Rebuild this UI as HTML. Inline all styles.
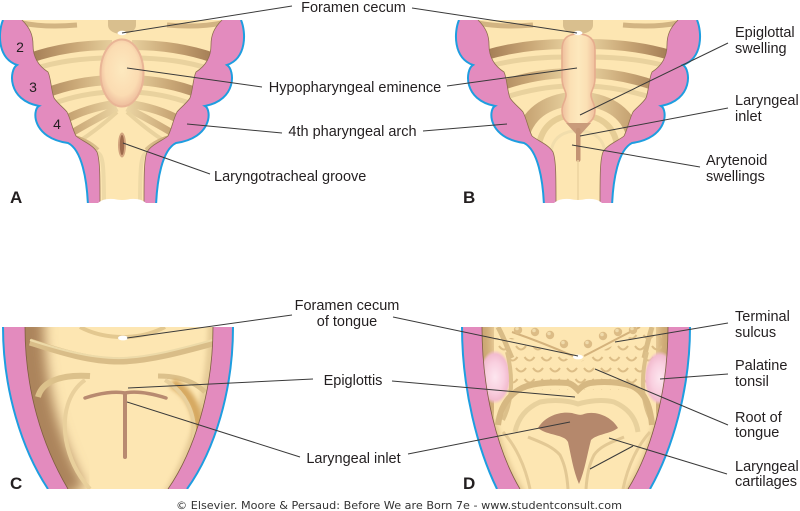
<!DOCTYPE html>
<html><head><meta charset="utf-8">
<style>html,body{margin:0;padding:0;background:#fff}svg{display:block}</style>
</head><body>
<svg width="800" height="511" viewBox="0 0 800 511" xmlns="http://www.w3.org/2000/svg" xmlns:xlink="http://www.w3.org/1999/xlink" font-family="'Liberation Sans', Arial, sans-serif">
<defs>
<linearGradient id="gb" gradientUnits="userSpaceOnUse" x1="-92" y1="0" x2="-5" y2="0">
<stop offset="0" stop-color="#a37c54"/><stop offset="0.5" stop-color="#c9a776"/><stop offset="1" stop-color="#ead4a2"/>
</linearGradient>
<radialGradient id="gem" cx="0.5" cy="0.45" r="0.55">
<stop offset="0" stop-color="#fde9bf"/><stop offset="0.7" stop-color="#fbdcb2"/><stop offset="1" stop-color="#eebc9c"/>
</radialGradient>
<linearGradient id="gsw" x1="0" y1="0" x2="1" y2="0">
<stop offset="0" stop-color="#efbf9d"/><stop offset="0.25" stop-color="#fbe0b4"/><stop offset="0.5" stop-color="#fde8bd"/><stop offset="0.75" stop-color="#fbe0b4"/><stop offset="1" stop-color="#efbf9d"/>
</linearGradient>
<radialGradient id="gto" cx="0.5" cy="0.5" r="0.5">
<stop offset="0" stop-color="#fde6ef"/><stop offset="0.55" stop-color="#f9cfdf"/><stop offset="0.85" stop-color="#f2bccf"/><stop offset="1" stop-color="#f2bccf" stop-opacity="0"/>
</radialGradient>
<filter id="b6" x="-50%" y="-50%" width="200%" height="200%"><feGaussianBlur stdDeviation="6"/></filter>
<filter id="b3" x="-50%" y="-50%" width="200%" height="200%"><feGaussianBlur stdDeviation="2.5"/></filter>
<clipPath id="cAh"><path d="M-100,20 C-92,28 -89,35 -89,45 C-89,55 -85,65 -74,72 C-71,78 -71,90 -68,98 C-64,104 -58,108 -55,112 C-51,120 -50,128 -46,136 C-40,141 -30,144 -25,152 C-22,160 -22,175 -22,206 L0,206 L0,20 Z"/></clipPath>
<clipPath id="clipTop"><rect x="0" y="20" width="800" height="183"/></clipPath>
<clipPath id="clipBot"><rect x="0" y="327" width="800" height="162"/></clipPath>
<clipPath id="cCc"><path d="M25,327 C25,390 42,445 68,489 L168,489 C195,450 213,390 213,327 Z"/></clipPath>
<clipPath id="cDc"><path d="M482,327 C482,390 497,450 520,489 L628,489 C652,450 668,390 668,327 Z"/></clipPath>
<pattern id="scl" patternUnits="userSpaceOnUse" x="497" y="343" width="17" height="22">
<path d="M2,3 Q7,10 12,3 M10.5,14 Q15.5,21 20.5,14 M-6.5,14 Q-1.5,21 3.5,14" stroke="#dcbd86" stroke-width="2" fill="none"/>
</pattern>

<g id="shapeAB">
<path d="M-119,20 C-124,32 -125,58 -105,65 C-113,70 -115,100 -83,106 C-90,110 -90,138 -54,143 C-40,150 -35,180 -34,206 L0,206 L0,20 Z" fill="#e38bbe"/>
<path d="M-100,20 C-92,28 -89,35 -89,45 C-89,55 -85,65 -74,72 C-71,78 -71,90 -68,98 C-64,104 -58,108 -55,112 C-51,120 -50,128 -46,136 C-40,141 -30,144 -25,152 C-22,160 -22,175 -22,206 L0,206 L0,20 Z" fill="#fde6b2"/>
<path d="M-119,20 C-124,32 -125,58 -105,65 C-113,70 -115,100 -83,106 C-90,110 -90,138 -54,143 C-40,150 -35,180 -34,206" fill="none" stroke="#1e9ee0" stroke-width="2"/>
</g>
<g id="edgeAB">
<path d="M-100,20 C-92,28 -89,35 -89,45 C-89,55 -85,65 -74,72 C-71,78 -71,90 -68,98 C-64,104 -58,108 -55,112 C-51,120 -50,128 -46,136 C-40,141 -30,144 -25,152 C-22,160 -22,175 -22,206" fill="none" stroke="#8e6e4e" stroke-width="0.8"/>
</g>
<g id="bandsA" clip-path="url(#cAh)" fill="none">
<path d="M-104,22 Q-80,28 -45,25" stroke="#d2b482" stroke-width="5"/>
<path d="M-92,58 Q-55,45 -10,45" stroke="url(#gb)" stroke-width="10"/>
<path d="M-88,69 Q-55,58 -10,58" stroke="#e9d29e" stroke-width="5"/>
<path d="M-76,93 Q-45,81 -10,80" stroke="url(#gb)" stroke-width="10"/>
<path d="M-70,104 Q-40,93 -10,92" stroke="#e9d29e" stroke-width="5"/>
<path d="M-58,120 Q-35,108 -8,104" stroke="url(#gb)" stroke-width="8"/>
<path d="M-52,134 Q-30,121 -5,108" stroke="url(#gb)" stroke-width="7"/>
<path d="M-44,142 Q-25,130 -5,112" stroke="#e9d29e" stroke-width="4"/>
<path d="M-54,139 Q-38,141 -26,152" stroke="url(#gb)" stroke-width="10"/>
<path d="M-26,152 C-19,154 -18,162 -18,206" stroke="#eed9a6" stroke-width="4"/>
</g>
<g id="bandsB" clip-path="url(#cAh)" fill="none">
<path d="M-104,22 Q-80,28 -45,25" stroke="#d2b482" stroke-width="5"/>
<path d="M-92,55 Q-55,44 -10,44" stroke="url(#gb)" stroke-width="10"/>
<path d="M-88,66 Q-55,57 -10,57" stroke="#e9d29e" stroke-width="5"/>
<path d="M-78,86 Q-45,74 -10,73" stroke="url(#gb)" stroke-width="10"/>
<path d="M-72,97 Q-40,87 -10,86" stroke="#e9d29e" stroke-width="5"/>
<path d="M-58,148 Q-54,108 -14,100 L0,99" stroke="url(#gb)" stroke-width="14"/>
<path d="M-40,152 Q-38,122 -12,116 L0,115" stroke="#e6cd96" stroke-width="6"/>
<path d="M-27,206 L-27,152 Q-25,134 -5,131 L0,131" stroke="#f1ddac" stroke-width="3"/>
</g>
</defs>

<!-- Panel A -->
<g clip-path="url(#clipTop)">
<g transform="translate(122,0)"><use href="#shapeAB" xlink:href="#shapeAB"/><use href="#bandsA" xlink:href="#bandsA"/><use href="#edgeAB" xlink:href="#edgeAB"/></g>
<g transform="translate(122,0) scale(-1,1)"><use href="#shapeAB" xlink:href="#shapeAB"/><use href="#bandsA" xlink:href="#bandsA"/><use href="#edgeAB" xlink:href="#edgeAB"/></g>
<path d="M108,20 L136,20 L136,25 C136,31 129,34 122,34 C115,34 108,31 108,25 Z" fill="#d9bf8e"/>
<ellipse cx="122" cy="73" rx="21.5" ry="33.5" fill="url(#gem)" stroke="#e9b596" stroke-width="2"/>
<ellipse cx="122" cy="33" rx="4.5" ry="2.2" fill="#fff"/>
<ellipse cx="122" cy="145" rx="4" ry="12.5" fill="#d2a47e"/>
<ellipse cx="122" cy="145" rx="2.2" ry="10" fill="#9e6a4c"/>
<path d="M97,204 Q102,198 114,199 Q122,201 130,199 Q142,198 147,204 Z" fill="#fff"/>
</g>
<text x="20" y="52" font-size="14" text-anchor="middle" fill="#231f20">2</text>
<text x="33" y="92" font-size="14" text-anchor="middle" fill="#231f20">3</text>
<text x="57" y="129" font-size="14" text-anchor="middle" fill="#231f20">4</text>

<!-- Panel B -->
<g clip-path="url(#clipTop)">
<g transform="translate(578,0)"><use href="#shapeAB" xlink:href="#shapeAB"/><use href="#bandsB" xlink:href="#bandsB"/><use href="#edgeAB" xlink:href="#edgeAB"/></g>
<g transform="translate(578,0) scale(-1,1)"><use href="#shapeAB" xlink:href="#shapeAB"/><use href="#bandsB" xlink:href="#bandsB"/><use href="#edgeAB" xlink:href="#edgeAB"/></g>
<path d="M563,20 L593,20 L593,25 C593,31 586,34 578,34 C570,34 563,31 563,25 Z" fill="#d9bf8e"/>
<path d="M578,34 C590,34 595,40 595,50 L595,78 C595,88 591,90 591,95 C591,100 595,104 595,110 C595,120 588,126 578,126 C568,126 562,120 562,110 C562,104 566,100 566,95 C566,90 562,88 562,78 L562,50 C562,40 566,34 578,34 Z" fill="url(#gsw)" stroke="#e6ad8e" stroke-width="1.6"/>
<ellipse cx="578" cy="33" rx="4.5" ry="2.2" fill="#fff"/>
<path d="M566,123 L591,123 L581,134 L576,134 Z" fill="#c99b7b"/>
<rect x="576" y="128" width="4.5" height="34" rx="2.2" fill="#c39373"/>
<path d="M578,160 L578,200" stroke="#ecd4a0" stroke-width="1.5"/>
<path d="M553,204 Q558,198 570,199 Q578,201 586,199 Q598,198 603,204 Z" fill="#fff"/>
</g>

<!-- Panel C -->
<g clip-path="url(#clipBot)">
<path d="M3,327 C3,390 22,450 48,489 L187,489 C215,450 233,390 233,327 Z" fill="#e38bbe"/>
<path d="M3,327 C3,390 22,450 48,489 M233,327 C233,390 215,450 187,489" stroke="#1e9ee0" stroke-width="2" fill="none"/>
<path d="M25,327 C25,390 42,445 68,489 L168,489 C195,450 213,390 213,327 Z" fill="#fde6b2"/>
<g clip-path="url(#cCc)" fill="none">
<path d="M25,315 C25,390 42,445 68,495" stroke="#ac845b" stroke-width="38" filter="url(#b6)"/>
<path d="M213,315 C213,390 195,450 168,495" stroke="#e6cc98" stroke-width="10" filter="url(#b3)"/>
<path d="M80,327 C95,335 110,337 123,337 C136,337 150,335 165,327" stroke="#e3c890" stroke-width="4"/>
<path d="M30,342 C55,350 90,362 123,361 C150,360 180,352 213,343" stroke="#d9bd88" stroke-width="7"/>
<path d="M30,340 C55,348 90,359 123,358 C150,357 180,349 213,340" stroke="#eddaa8" stroke-width="2"/>
<path d="M38,397 C42,382 60,374 90,376" stroke="#dcc18b" stroke-width="6"/>
<path d="M158,376 C180,376 195,382 205,392" stroke="#dcc18b" stroke-width="5"/>
<path d="M172,383 C196,395 203,425 197,452 C194,466 189,478 184,492" stroke="#d6a860" stroke-width="10" filter="url(#b3)"/>
<path d="M85,380 C68,392 62,415 66,440 C70,462 80,478 90,489" stroke="#e9d09c" stroke-width="4"/>
<path d="M165,380 C185,392 195,412 194,435 C193,458 185,475 178,489" stroke="#e9d09c" stroke-width="4"/>
<path d="M85,398 C100,393 115,391 125,393 C135,391 150,393 166,398" stroke="#b88a70" stroke-width="3.5" stroke-linecap="round"/>
<path d="M125,395 L125,457" stroke="#b88a70" stroke-width="4" stroke-linecap="round"/>
</g>
<path d="M25,327 C25,390 42,445 68,489 M213,327 C213,390 195,450 168,489" stroke="#7e5e40" stroke-width="0.8" fill="none"/>
<ellipse cx="123" cy="338" rx="5" ry="2.4" fill="#fff"/>
</g>

<!-- Panel D -->
<g clip-path="url(#clipBot)">
<path d="M462,327 C462,390 478,450 497,489 L650,489 C672,450 690,390 690,327 Z" fill="#e38bbe"/>
<path d="M462,327 C462,390 478,450 497,489 M690,327 C690,390 672,450 650,489" stroke="#1e9ee0" stroke-width="2" fill="none"/>
<path d="M482,327 C482,390 497,450 520,489 L628,489 C652,450 668,390 668,327 Z" fill="#fde6b2"/>
<g clip-path="url(#cDc)" fill="none">
<path d="M482,315 C482,360 484,390 490,420" stroke="#c9a470" stroke-width="22" filter="url(#b6)"/>
<path d="M668,315 C668,360 666,390 660,420" stroke="#c9a470" stroke-width="22" filter="url(#b6)"/>
<path d="M490,420 C497,450 505,470 520,495" stroke="#e3c893" stroke-width="12" filter="url(#b3)"/>
<path d="M660,420 C653,450 645,470 628,495" stroke="#e3c893" stroke-width="12" filter="url(#b3)"/>
<path d="M498,327 C505,340 508,350 512,358" stroke="#d9bc86" stroke-width="5"/>
<path d="M652,327 C648,340 646,350 644,358" stroke="#d9bc86" stroke-width="5"/>
<path d="M492,338 L512,338 L578,363 L640,332 L662,334 L662,390 L492,390 Z" fill="url(#scl)"/>
<ellipse cx="495" cy="377" rx="16" ry="27" fill="url(#gto)"/>
<ellipse cx="660" cy="378" rx="16" ry="27" fill="url(#gto)"/>
<path d="M507,352 C513,375 513,400 503,420" stroke="#dcc08a" stroke-width="4"/>
<path d="M647,352 C641,375 641,400 651,420" stroke="#dcc08a" stroke-width="4"/>
<path d="M512,332 C535,340 555,348 573,356" stroke="#d4b27c" stroke-width="2"/>
<path d="M584,356 C600,348 618,338 640,327" stroke="#d4b27c" stroke-width="2"/>
<g fill="#dcbc86">
<circle cx="518" cy="330" r="4.2"/><circle cx="535" cy="332" r="4.2"/><circle cx="550" cy="335" r="4.2"/><circle cx="564" cy="344" r="4.2"/>
<circle cx="588" cy="344" r="4.2"/><circle cx="603" cy="336" r="4.2"/><circle cx="618" cy="332" r="4.2"/><circle cx="633" cy="330" r="4.2"/>
</g>
<g fill="#f0dbab">
<circle cx="517" cy="328.5" r="1.8"/><circle cx="534" cy="330.5" r="1.8"/><circle cx="549" cy="333.5" r="1.8"/><circle cx="563" cy="342.5" r="1.8"/>
<circle cx="587" cy="342.5" r="1.8"/><circle cx="602" cy="334.5" r="1.8"/><circle cx="617" cy="330.5" r="1.8"/><circle cx="632" cy="328.5" r="1.8"/>
</g>
<path d="M498,425 C500,408 508,395 522,388 C535,382 555,382 568,383 C573,384 576,388 578,390 C580,388 584,384 590,383 C604,381 620,382 632,386 C645,392 650,405 652,425" stroke="#d6b882" stroke-width="6"/>
<path d="M515,432 C518,418 526,408 540,402 C555,399 570,401 578,404 C588,401 602,399 614,402 C628,408 636,418 638,432" stroke="#e8d19d" stroke-width="5"/>
<path d="M503,432 C515,445 525,465 530,489" stroke="#e4ca96" stroke-width="3"/>
<path d="M650,432 C638,445 628,465 623,489" stroke="#e4ca96" stroke-width="3"/>
<path d="M528,437 C540,442 552,446 560,455 C565,465 567,475 568,489" stroke="#e2c894" stroke-width="3"/>
<path d="M624,437 C612,442 600,446 594,455 C589,465 587,475 586,489" stroke="#e2c894" stroke-width="3"/>
<path d="M538,428 C545,416 560,411 572,413 C576,414 580,416 584,414 C596,410 612,417 618,428 C610,434 597,434 591,440 C587,455 585,470 579,484 C573,470 571,455 568,442 C564,434 548,436 538,428 Z" fill="#b5886c"/>
</g>
<path d="M482,327 C482,390 497,450 520,489 M668,327 C668,390 652,450 628,489" stroke="#7e5e40" stroke-width="0.8" fill="none"/>
<ellipse cx="578" cy="357" rx="5" ry="2.4" fill="#fff"/>
</g>

<!-- Leader lines -->
<g stroke="#3a3a3a" stroke-width="1" fill="none">
<line x1="122" y1="33" x2="292" y2="6"/>
<line x1="412" y1="8" x2="577" y2="33"/>
<line x1="127" y1="68" x2="262" y2="87"/>
<line x1="447" y1="86" x2="577" y2="68"/>
<line x1="187" y1="124" x2="282" y2="133"/>
<line x1="423" y1="131" x2="507" y2="124"/>
<line x1="123" y1="143" x2="210" y2="174"/>
<line x1="728" y1="43" x2="580" y2="115"/>
<line x1="728" y1="108" x2="580" y2="136"/>
<line x1="700" y1="167" x2="572" y2="145"/>
<line x1="127" y1="338" x2="292" y2="315"/>
<line x1="393" y1="317" x2="578" y2="356"/>
<line x1="128" y1="388" x2="313" y2="379"/>
<line x1="392" y1="381" x2="575" y2="397"/>
<line x1="127" y1="402" x2="300" y2="457"/>
<line x1="408" y1="454" x2="570" y2="422"/>
<line x1="728" y1="323" x2="615" y2="342"/>
<line x1="728" y1="374" x2="660" y2="379"/>
<line x1="728" y1="425" x2="595" y2="369"/>
<line x1="727" y1="474" x2="609" y2="438"/>
<line x1="633" y1="446" x2="590" y2="469"/>
</g>

<!-- Labels -->
<g font-size="14.5" fill="#231f20">
<text x="353.5" y="12" text-anchor="middle">Foramen cecum</text>
<text x="355" y="92" text-anchor="middle">Hypopharyngeal eminence</text>
<text x="352.5" y="136" text-anchor="middle">4th pharyngeal arch</text>
<text x="214" y="181">Laryngotracheal groove</text>
<text x="735" y="37">Epiglottal</text>
<text x="735" y="53">swelling</text>
<text x="735" y="105">Laryngeal</text>
<text x="735" y="121">inlet</text>
<text x="706" y="165">Arytenoid</text>
<text x="706" y="181">swellings</text>
<text x="347" y="310" text-anchor="middle">Foramen cecum</text>
<text x="347" y="326" text-anchor="middle">of tongue</text>
<text x="353" y="385" text-anchor="middle">Epiglottis</text>
<text x="353.5" y="463" text-anchor="middle">Laryngeal inlet</text>
<text x="735" y="321">Terminal</text>
<text x="735" y="337">sulcus</text>
<text x="735" y="370">Palatine</text>
<text x="735" y="386">tonsil</text>
<text x="735" y="422">Root of</text>
<text x="735" y="437">tongue</text>
<text x="735" y="471">Laryngeal</text>
<text x="735" y="486">cartilages</text>
</g>
<g font-size="17" font-weight="bold" fill="#231f20">
<text x="10" y="203">A</text>
<text x="463" y="203">B</text>
<text x="10" y="489">C</text>
<text x="463" y="489">D</text>
</g>
<text x="176" y="509" font-family="'DejaVu Sans', Verdana, sans-serif" font-size="11" fill="#333" textLength="446" lengthAdjust="spacingAndGlyphs">© Elsevier. Moore &amp; Persaud: Before We are Born 7e - www.studentconsult.com</text>
</svg>
</body></html>
